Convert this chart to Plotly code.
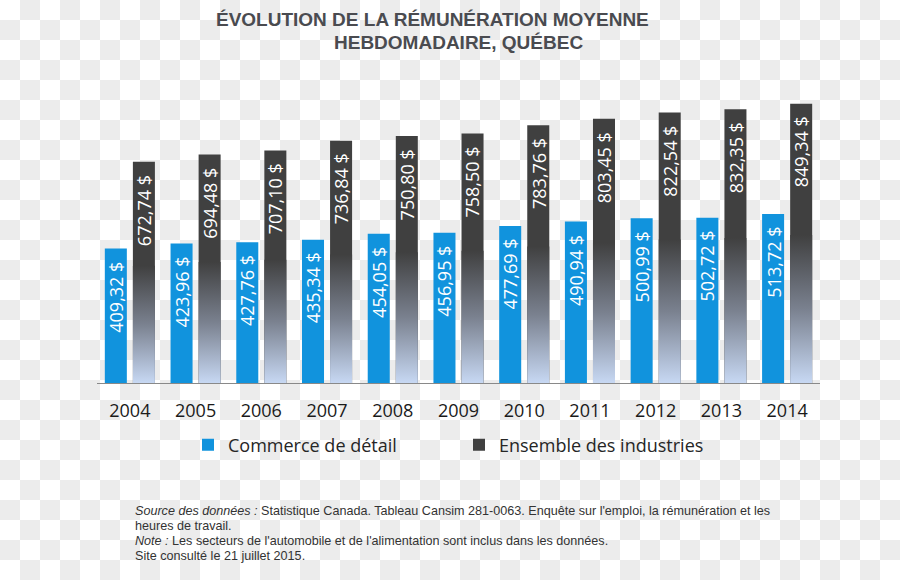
import base64
import plotly.graph_objects as go

# ---------------- data ----------------
years = ["2004", "2005", "2006", "2007", "2008", "2009", "2010", "2011", "2012", "2013", "2014"]
commerce = [409.32, 423.96, 427.76, 435.34, 454.05, 456.95, 477.69, 490.94, 500.99, 502.72, 513.72]
ensemble = [672.74, 694.48, 707.10, 736.84, 750.80, 758.50, 783.76, 803.45, 822.54, 832.35, 849.34]
series_names = ["Commerce de détail", "Ensemble des industries"]
title_lines = ["ÉVOLUTION DE LA RÉMUNÉRATION MOYENNE", "HEBDOMADAIRE, QUÉBEC"]
footer_lines = [
    "<i>Source des données :</i> Statistique Canada. Tableau Cansim 281-0063. Enquête sur l'emploi, la rémunération et les",
    "heures de travail.",
    "<i>Note :</i> Les secteurs de l'automobile et de l'alimentation sont inclus dans les données.",
    "Site consulté le 21 juillet 2015.",
]

# ---------------- layout geometry ----------------
W, H = 900, 580
ML, MR, MT, MB = 97, 80, 87, 197
PW, PH = W - ML - MR, H - MT - MB
YMAX = 900

def px_x(px):
    return (px - ML) / PW

def px_y(py):
    return (H - MB - py) / PH

BLUE = "#1193dd"
DARK = "#404040"
BAR_W = 0.335
OFF_BLUE = -0.381
OFF_DARK = 0.046
GRAD_FRAC = 0.53

def fmt(v):
    return f"{v:.2f}".replace(".", ",") + " $"

xs = list(range(len(years)))

fig = go.Figure()

fig.add_trace(go.Bar(
    x=xs, y=commerce, name=series_names[0], offset=OFF_BLUE, width=BAR_W,
    marker=dict(color=BLUE, line=dict(width=0)), hoverinfo="skip",
))
fig.add_trace(go.Bar(
    x=xs, y=ensemble, name=series_names[1], offset=OFF_DARK, width=BAR_W,
    marker=dict(color=DARK, line=dict(width=0)), hoverinfo="skip",
))

# gradient lower part of the dark bars
for i, v in zip(xs, ensemble):
    x0 = i + OFF_DARK
    x1 = x0 + BAR_W
    h = v * GRAD_FRAC
    fig.add_trace(go.Scatter(
        x=[x0, x1, x1, x0, x0], y=[0, 0, h, h, 0], mode="lines",
        fill="toself", line=dict(width=0, color="rgba(0,0,0,0)"),
        fillgradient=dict(type="vertical", start=0, stop=h,
                          colorscale=[[0, "#c7d8f3"], [0.5, "#7a818f"], [1, DARK]]),
        showlegend=False, hoverinfo="skip",
    ))

annotations = []
for i, (c, e) in enumerate(zip(commerce, ensemble)):
    for v, off in ((c, OFF_BLUE), (e, OFF_DARK)):
        annotations.append(dict(
            x=i + off + BAR_W / 2, y=v, xref="x", yref="y", text=fmt(v),
            textangle=-90, showarrow=False, xanchor="center", yanchor="top",
            yshift=-11, font=dict(family="Open Sans", size=18, color="white"),
        ))

annotations.append(dict(
    x=px_x(432), y=px_y(19.5), xref="paper", yref="paper", text="<b>" + title_lines[0] + "</b>",
    showarrow=False, xanchor="center", yanchor="middle",
    font=dict(family="Liberation Sans", size=19, color="#4a4b50"),
))
annotations.append(dict(
    x=px_x(458), y=px_y(42.5), xref="paper", yref="paper", text="<b>" + title_lines[1] + "</b>",
    showarrow=False, xanchor="center", yanchor="middle",
    font=dict(family="Liberation Sans", size=19, color="#4a4b50"),
))
for k, line in enumerate(footer_lines):
    annotations.append(dict(
        x=px_x(133), y=px_y(511 + 15 * k), xref="paper", yref="paper", text=line,
        showarrow=False, xanchor="left", yanchor="middle", align="left",
        font=dict(family="Liberation Sans", size=12.6, color="#333333"),
    ))

# checkerboard background
svg = ("<svg xmlns='http://www.w3.org/2000/svg' width='900' height='580'>"
       "<defs><pattern id='p' width='40' height='40' patternUnits='userSpaceOnUse'>"
       "<rect width='40' height='40' fill='#ffffff'/>"
       "<rect x='20' y='0' width='20' height='20' fill='#ececec'/>"
       "<rect x='0' y='20' width='20' height='20' fill='#ececec'/>"
       "</pattern></defs><rect width='900' height='580' fill='url(#p)'/></svg>")
src = "data:image/svg+xml;base64," + base64.b64encode(svg.encode()).decode()

fig.update_layout(
    width=W, height=H,
    margin=dict(l=ML, r=MR, t=MT, b=MB, pad=0),
    paper_bgcolor="white", plot_bgcolor="rgba(0,0,0,0)",
    template="none",
    barmode="overlay",
    showlegend=True,
    legend=dict(orientation="h", x=px_x(188), y=px_y(445), xanchor="left", yanchor="middle",
                font=dict(family="Open Sans", size=18, color="#262626"),
                entrywidth=226, bgcolor="rgba(0,0,0,0)", traceorder="normal"),
    images=[dict(source=src, xref="paper", yref="paper", x=px_x(0), y=px_y(0),
                 sizex=W / PW, sizey=H / PH, xanchor="left", yanchor="top",
                 sizing="stretch", layer="below")],
    xaxis=dict(range=[-0.5, len(years) - 0.5], tickmode="array", tickvals=xs, ticktext=years,
               showgrid=False, zeroline=False, showline=True, linecolor="#898989", linewidth=1,
               ticks="outside", ticklen=11, tickcolor="rgba(0,0,0,0)",
               tickfont=dict(family="Open Sans", size=18, color="#1a1a1a")),
    yaxis=dict(range=[0, YMAX], visible=False, showgrid=False, zeroline=False),
    annotations=annotations,
)

fig.write_html("out.html",
               config={"displayModeBar": False},
               post_script="document.body.style.margin='0';document.body.style.overflow='hidden';")
